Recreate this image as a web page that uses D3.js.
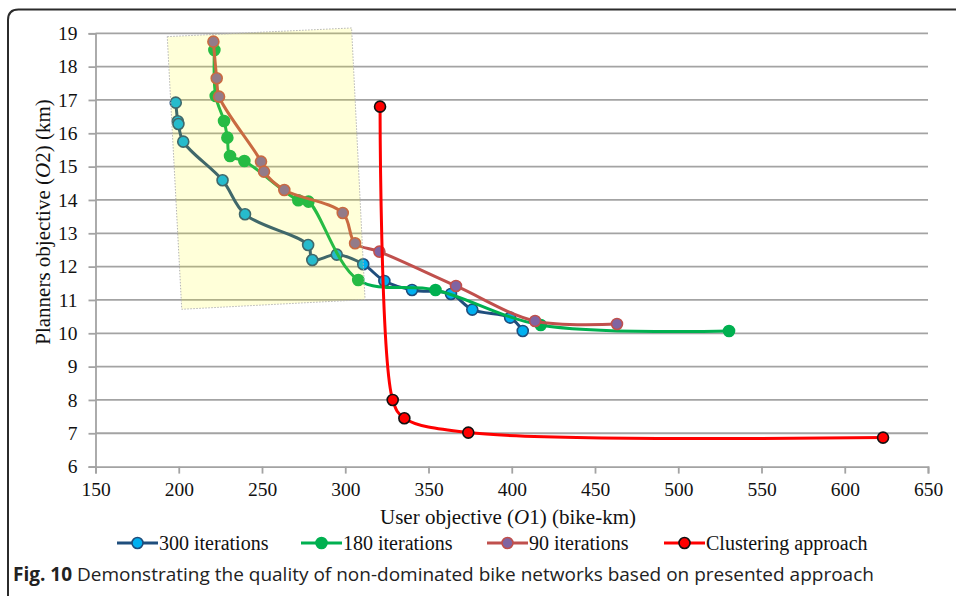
<!DOCTYPE html>
<html>
<head>
<meta charset="utf-8">
<script src="https://cdn.jsdelivr.net/npm/d3@7"></script>
<style>
  html, body { margin: 0; padding: 0; background: #fff; }
  svg { display: block; }
</style>
</head>
<body>
<div id="chart"></div>
<script>
// Data (user objective O1, planners objective O2)
const it300X = [198.2, 199.4, 199.8, 202.7, 226.3, 239.8, 277.7, 280.2, 294.9, 310.8, 323.5, 340.1, 363.5, 376.3, 399, 406.6];
const it300Y = [16.92, 16.36, 16.28, 15.75, 14.59, 13.57, 12.65, 12.2, 12.36, 12.07, 11.57, 11.3, 11.18, 10.71, 10.47, 10.07];

const it180X = [221.4, 222.2, 227.2, 229.2, 230.8, 239.4, 271.8, 277.9, 307.8, 354.2, 417.4, 530.5];
const it180Y = [18.5, 17.12, 16.37, 15.87, 15.32, 15.17, 13.99, 13.95, 11.6, 11.3, 10.25, 10.07];

const it90X = [220.8, 222.8, 224.2, 249.4, 251.2, 263.4, 298.5, 305.9, 320.5, 366.5, 414, 463.2];
const it90Y = [18.75, 17.65, 17.1, 15.15, 14.85, 14.3, 13.61, 12.7, 12.45, 11.42, 10.37, 10.28];

const clusterX = [320.9, 328.5, 335.5, 373.9, 623];
const clusterY = [16.8, 8.0, 7.45, 7.02, 6.87];

// highlighted region (corners in data units)
const regionX = [193.1, 303.8, 311.9, 201.8];
const regionY = [18.9, 19.16, 11.01, 10.72];

const xTicks = [150, 200, 250, 300, 350, 400, 450, 500, 550, 600, 650];
const yTicks = [6, 7, 8, 9, 10, 11, 12, 13, 14, 15, 16, 17, 18, 19];

const seriesNames = ["300 iterations", "180 iterations", "90 iterations", "Clustering approach"];

const width = 956;
const height = 596;

const svg = d3.select("#chart").append("svg")
  .attr("width", width)
  .attr("height", height);

// outer frame (open to the right and bottom)
svg.append("path")
  .attr("d", "M8,605 L8,20 Q8,9.5 18.5,9.5 L970,9.5")
  .attr("fill", "none")
  .attr("stroke", "#2b2b2b")
  .attr("stroke-width", 2);

const x = d3.scaleLinear().domain([150, 650]).range([95.5, 928]);
const y = d3.scaleLinear().domain([6, 19]).range([466.6, 33.3]);

const serif = "Liberation Serif";

// gridlines
svg.append("g")
  .selectAll("line")
  .data(yTicks.slice(1))
  .join("line")
  .attr("x1", x(150))
  .attr("x2", x(650))
  .attr("y1", d => y(d))
  .attr("y2", d => y(d))
  .attr("stroke", "#a3a3a3")
  .attr("stroke-width", 1.8);

// y axis
const yAxis = svg.append("g")
  .attr("transform", `translate(${x(150)},0)`)
  .call(d3.axisLeft(y).tickValues(yTicks).tickSize(7).tickPadding(11));
yAxis.attr("font-family", serif).attr("font-size", 19.5);
yAxis.select(".domain").attr("stroke", "#a3a3a3").attr("stroke-width", 1.8);
yAxis.selectAll(".tick line").attr("stroke", "#a3a3a3").attr("stroke-width", 1.8);
yAxis.selectAll(".tick text").attr("fill", "#111");

// x axis
const xAxis = svg.append("g")
  .attr("transform", `translate(0,${y(6)})`)
  .call(d3.axisBottom(x).tickValues(xTicks).tickSize(7).tickPadding(9));
xAxis.attr("font-family", serif).attr("font-size", 19.5);
xAxis.select(".domain").attr("stroke", "#a3a3a3").attr("stroke-width", 1.8);
xAxis.selectAll(".tick line").attr("stroke", "#a3a3a3").attr("stroke-width", 1.8);
xAxis.selectAll(".tick text").attr("fill", "#111");

// series
const series = [
  { xs: it300X, ys: it300Y, line: "#1f4e7d", fill: "#00b0f0", stroke: "#1f4e7d" },
  { xs: it180X, ys: it180Y, line: "#00b050", fill: "#00b050", stroke: "#00b050" },
  { xs: it90X, ys: it90Y, line: "#c0504d", fill: "#8064a2", stroke: "#c0504d" },
  { xs: clusterX, ys: clusterY, line: "#ff0000", fill: "#ff0000", stroke: "#111" }
];

const line = d3.line()
  .x(d => x(d[0]))
  .y(d => y(d[1]))
  .curve(d3.curveCatmullRom.alpha(0.5));

series.forEach(s => {
  const pts = s.xs.map((v, i) => [v, s.ys[i]]);
  svg.append("path")
    .datum(pts)
    .attr("fill", "none")
    .attr("stroke", s.line)
    .attr("stroke-width", 3)
    .attr("d", line);
  svg.append("g")
    .selectAll("circle")
    .data(pts)
    .join("circle")
    .attr("cx", d => x(d[0]))
    .attr("cy", d => y(d[1]))
    .attr("r", 5.5)
    .attr("fill", s.fill)
    .attr("stroke", s.stroke)
    .attr("stroke-width", 1.6);
});

// translucent yellow region over the front
const region = regionX.map((v, i) => [x(v), y(regionY[i])]);
svg.append("polygon")
  .attr("points", region.map(p => p.join(",")).join(" "))
  .attr("fill", "#ffff00")
  .attr("fill-opacity", 0.15)
  .attr("stroke", "#b5b5b5")
  .attr("stroke-width", 1)
  .attr("stroke-dasharray", "1.5,1.5");

// axis titles
const yTitle = svg.append("text")
  .attr("transform", "translate(50,222) rotate(-90)")
  .attr("text-anchor", "middle")
  .attr("font-family", serif)
  .attr("font-size", 21)
  .attr("fill", "#111");
yTitle.append("tspan").text("Planners objective (");
yTitle.append("tspan").attr("font-style", "italic").text("O");
yTitle.append("tspan").text("2) (km)");

const xTitle = svg.append("text")
  .attr("x", 508)
  .attr("y", 524)
  .attr("text-anchor", "middle")
  .attr("font-family", serif)
  .attr("font-size", 21)
  .attr("fill", "#111");
xTitle.append("tspan").text("User objective (");
xTitle.append("tspan").attr("font-style", "italic").text("O");
xTitle.append("tspan").text("1) (bike-km)");

// legend
const legendX = [117, 301, 487, 664];
const legend = svg.append("g");
series.forEach((s, i) => {
  const g = legend.append("g").attr("transform", `translate(${legendX[i]},543)`);
  g.append("line")
    .attr("x1", 0).attr("x2", 41)
    .attr("stroke", s.line)
    .attr("stroke-width", 3);
  g.append("circle")
    .attr("cx", 20.5)
    .attr("r", 5.5)
    .attr("fill", s.fill)
    .attr("stroke", s.stroke)
    .attr("stroke-width", 1.6);
  g.append("text")
    .attr("x", 42)
    .attr("y", 6.5)
    .attr("font-family", serif)
    .attr("font-size", 20)
    .attr("fill", "#111")
    .text(seriesNames[i]);
});

// caption
const caption = svg.append("text")
  .attr("x", 13)
  .attr("y", 581)
  .attr("font-family", "Open Sans")
  .attr("font-size", 19)
  .attr("fill", "#222");
caption.append("tspan").attr("font-weight", "bold").text("Fig. 10");
caption.append("tspan").text(" Demonstrating the quality of non-dominated bike networks based on presented approach");
</script>
</body>
</html>
